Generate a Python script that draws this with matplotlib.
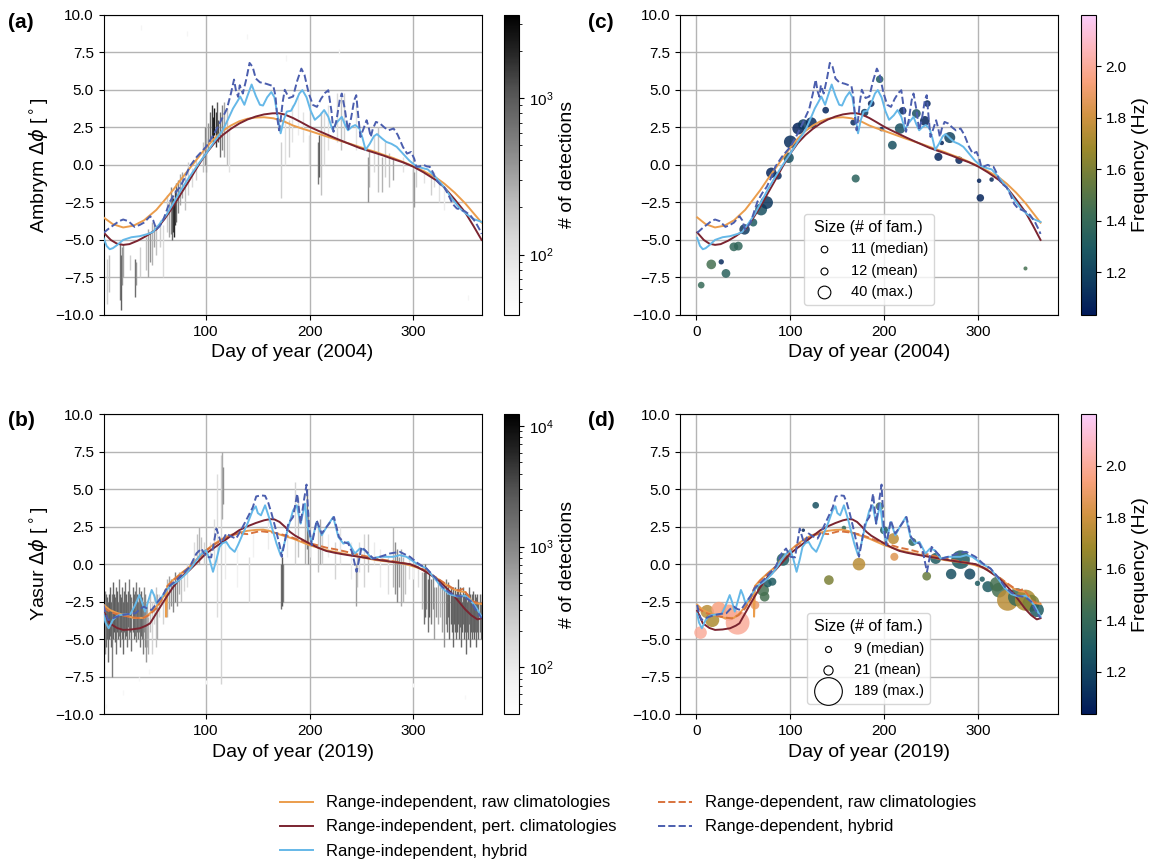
import numpy as np
import matplotlib
matplotlib.use('Agg')
import matplotlib.pyplot as plt
from matplotlib.colors import LogNorm, Normalize, LinearSegmentedColormap
from matplotlib.lines import Line2D
import matplotlib.cm as cm

plt.rcParams['font.family'] = ['Liberation Sans', 'DejaVu Sans']

# ---------------- curves 2004 (Ambrym), (day, dphi) ----------------
ri_raw_2004 = [(1,-3.5),(10,-3.95),(20,-4.17),(30,-4.05),(40,-3.7),(52,-3.0),(60,-2.35),(68,-1.69),
    (76,-0.95),(84,-0.25),(92,0.45),(100,1.15),(108,1.75),(116,2.25),(124,2.62),(132,2.9),(140,3.07),
    (148,3.15),(156,3.17),(165,3.1),(175,2.9),(184,2.62),(192,2.43),(200,2.26),(208,2.08),(216,1.9),
    (224,1.72),(232,1.55),(240,1.38),(248,1.2),(256,1.02),(264,0.85),(272,0.65),(280,0.47),(290,0.2),
    (300,-0.09),(310,-0.42),(322,-0.85),(330,-1.25),(340,-1.85),(350,-2.55),(358,-3.2),(366,-3.85)]
ri_pert_2004 = [(1,-4.5),(8,-5.0),(14,-5.25),(20,-5.33),(26,-5.28),(34,-5.05),(42,-4.75),(52,-4.3),
    (60,-3.6),(68,-2.8),(76,-1.9),(84,-1.02),(92,-0.1),(100,0.75),(108,1.45),(116,1.98),(124,2.4),
    (132,2.75),(140,3.02),(148,3.22),(156,3.36),(164,3.43),(170,3.44),(176,3.35),(184,3.12),(192,2.83),
    (200,2.53),(208,2.28),(216,2.04),(224,1.8),(232,1.57),(240,1.35),(248,1.13),(256,0.95),(264,0.78),
    (272,0.6),(280,0.4),(290,0.17),(300,-0.12),(310,-0.5),(322,-1.02),(330,-1.5),(340,-2.3),(350,-3.15),
    (358,-4.05),(366,-5.0)]
ri_hyb_2004 = [(1,-4.86),(4,-5.4),(7,-5.62),(10,-5.55),(14,-5.35),(20,-5.0),(28,-4.82),(36,-4.75),
    (44,-4.6),(49,-4.46),(55,-3.95),(62,-3.3),(68,-2.6),(76,-1.65),(84,-0.8),(92,0.0),(100,0.75),
    (108,1.55),(116,2.3),(122,3.15),(126,3.75),(130,4.2),(133,4.55),(137,4.0),(140,4.6),(144,5.35),
    (148,4.6),(152,4.0),(155,3.95),(159,4.5),(163,4.85),(166,4.5),(169,3.3),(172,2.1),(175,3.0),
    (178,3.55),(182,3.6),(186,4.1),(190,4.75),(193,4.98),(197,4.5),(201,3.6),(205,3.0),(210,3.3),
    (214,3.65),(218,3.2),(222,2.35),(226,2.8),(231,3.2),(234,2.7),(237,2.3),(241,2.55),(244,2.65),
    (248,2.42),(251,1.8),(254,1.0),(258,1.4),(262,1.9),(265,2.05),(270,1.75),(274,1.53),(279,1.4),
    (284,1.2),(290,0.75),(296,0.3),(302,-0.05),(308,-0.2),(314,-0.3),(322,-0.85),(330,-1.5),
    (338,-2.3),(345,-2.9),(352,-3.3),(358,-3.6),(366,-3.8)]
rd_hyb_2004 = [(1,-4.53),(6,-4.25),(11,-4.0),(16,-3.75),(20,-3.64),(25,-3.75),(31,-4.13),(36,-4.0),
    (40,-3.85),(46,-3.42),(49,-3.7),(52,-4.3),(55,-4.1),(58,-3.8),(65,-2.46),(70,-1.9),(75,-1.46),
    (80,-0.8),(84,-0.13),(91,0.53),(100,1.2),(107,1.98),(113,2.75),(117,3.3),(120,3.7),(124,4.75),
    (127,5.68),(129,4.9),(131,4.53),(132.5,5.3),(135.5,4.75),(139,5.75),(142,6.79),(145,6.52),
    (148,5.75),(152,5.5),(158,5.4),(165,5.24),(167,4.6),(169,3.0),(170.5,2.3),(172,3.0),(174,4.2),
    (176,5.0),(180,4.45),(184,4.55),(188,5.6),(192,6.41),(195,6.0),(199,4.8),(203,4.0),(207,3.86),
    (211,4.4),(215,4.8),(218,4.97),(221,3.6),(223,2.2),(226,3.0),(229,4.3),(231,4.75),(234,3.7),
    (237,2.3),(240,3.1),(243,4.3),(245,4.64),(247,3.2),(249,1.86),(252,2.4),(255,2.97),(257,2.5),
    (259,1.86),(261,2.4),(264,2.86),(268,2.75),(272,2.5),(276,2.3),(281,2.42),(285,2.0),(290,1.2),
    (294,0.75),(298,0.86),(301,0.4),(303,-0.13),(306,-0.1),(310,0.0),(313,-0.1),(316,-0.13),
    (319,-0.5),(322,-1.0),(326,-1.3),(330,-1.5),(334,-2.0),(338,-2.6),(342,-2.9),(346,-3.0),
    (350,-3.1),(355,-3.35),(360,-3.8),(364,-4.3),(366,-4.6)]

# ---------------- curves 2019 (Yasur) ----------------
ri_raw_2019 = [(1,-2.7),(7,-3.05),(14,-3.25),(20,-3.38),(30,-3.58),(40,-3.58),(46,-3.27),(52,-2.83),
    (57,-2.39),(60,-2.0),(61,-1.7),(61.5,-3.5),(62.5,-1.45),(68,-1.06),(76,-0.6),(84,-0.18),(92,0.4),
    (100,0.93),(108,1.35),(116,1.7),(124,1.95),(132,2.1),(140,2.22),(148,2.28),(155,2.3),(162,2.2),
    (168,2.04),(176,1.87),(184,1.7),(192,1.48),(200,1.26),(208,1.1),(216,0.93),(224,0.82),(232,0.71),
    (240,0.6),(248,0.49),(256,0.38),(264,0.27),(272,0.2),(280,0.15),(288,0.06),(296,-0.06),
    (306,-0.28),(314,-0.55),(322,-0.9),(330,-1.3),(338,-1.65),(344,-1.8),(350,-1.85),(353,-2.1),
    (356,-2.45),(360,-2.6),(366,-2.65)]
rd_raw_2019 = [(1,-2.9),(8,-3.2),(15,-3.35),(22,-3.45),(30,-3.55),(38,-3.62),(45,-3.4),(52,-2.95),
    (58,-2.3),(62,-1.55),(68,-1.1),(76,-0.65),(84,-0.2),(92,0.35),(100,0.9),(108,1.3),(116,1.65),
    (124,1.9),(132,2.05),(140,2.0),(146,2.1),(152,2.2),(158,2.15),(165,2.1),(172,2.0),(180,1.85),
    (190,1.6),(200,1.4),(208,1.25),(216,1.1),(224,1.0),(232,0.88),(240,0.75),(248,0.62),(256,0.5),
    (264,0.38),(272,0.28),(280,0.2),(290,0.08),(300,-0.08),(310,-0.35),(320,-0.8),(330,-1.25),
    (338,-1.6),(344,-1.75),(348,-1.65),(352,-2.0),(356,-2.4),(360,-2.55),(366,-2.6)]
ri_pert_2019 = [(1,-3.1),(7,-3.94),(14,-4.25),(20,-4.38),(28,-4.35),(36,-4.27),(42,-4.1),(46,-3.94),
    (52,-3.27),(58,-2.6),(62,-2.17),(68,-1.55),(76,-0.85),(84,-0.4),(92,0.15),(100,0.71),(108,1.1),
    (116,1.48),(124,1.88),(132,2.26),(140,2.52),(148,2.74),(156,2.92),(162,3.0),(166,2.98),(171,2.81),
    (176,2.5),(181,2.15),(186,1.9),(191,1.71),(200,1.37),(208,1.1),(216,0.88),(224,0.76),(232,0.66),
    (240,0.57),(248,0.49),(256,0.4),(264,0.31),(272,0.23),(280,0.15),(288,0.08),(297,0.0),(304,-0.2),
    (310,-0.42),(316,-0.68),(322,-0.95),(330,-1.45),(338,-2.0),(344,-2.5),(350,-3.0),(356,-3.4),
    (362,-3.68),(366,-3.6)]
ri_hyb_2019 = [(1,-3.3),(3,-3.9),(6,-4.27),(10,-3.72),(14,-3.45),(17,-3.38),(22,-3.35),(27,-3.32),
    (31,-2.8),(35.6,-2.06),(38,-2.5),(41,-3.16),(44,-2.5),(47.5,-1.72),(50,-2.1),(52.3,-2.61),(56,-2.3),
    (62,-1.72),(66,-1.4),(71.5,-1.2),(76,-0.95),(81,-0.62),(86,-0.2),(90.7,0.27),(95,0.65),(100,0.93),
    (103,0.4),(106.7,-0.51),(110,0.3),(113,1.15),(116,1.4),(119.5,1.48),(123,1.1),(127.6,0.82),
    (131,1.3),(135.6,2.04),(140,2.7),(145,3.58),(148,3.85),(150,3.4),(153,3.25),(157,3.92),
    (161.7,2.92),(165,2.1),(168,1.37),(172,0.6),(175,1.2),(177.8,2.04),(184,3.58),(187.5,3.92),
    (191.3,2.7),(195.5,4.03),(198.7,2.26),(202,1.48),(206.8,2.81),(211.6,1.92),(216.4,2.48),
    (222.8,3.14),(227.7,1.81),(232.5,1.37),(237.3,1.48),(243.7,0.71),(248.5,1.04),(253.4,0.93),
    (259.8,0.38),(267.8,0.49),(274.3,0.49),(280.7,0.49),(287,0.6),(293.5,0.49),(303.2,0.04),
    (312.8,-0.29),(322,-1.06),(328,-1.6),(335,-2.0),(342,-2.15),(350,-2.1),(355,-2.4),(360,-2.8),
    (366,-3.5)]
rd_hyb_2019 = [(1,-2.72),(3,-3.3),(5.5,-3.72),(10,-3.6),(14,-3.5),(20,-3.38),(27,-3.3),(32,-3.27),
    (36,-3.0),(40,-2.83),(44,-3.0),(47.5,-3.05),(52.3,-2.61),(58,-2.1),(62,-1.61),(71.5,-1.06),
    (78,-0.6),(84.3,-0.18),(90.7,0.71),(95.5,1.04),(100,0.49),(105,0.45),(110,2.37),(114.7,1.37),
    (119.5,2.04),(124,1.85),(129,1.7),(134,2.3),(138.7,2.92),(145.2,3.8),(148.4,4.51),(153,4.58),
    (157,4.55),(160,4.1),(163.3,3.36),(167,2.4),(171.4,1.15),(173,0.49),(176,1.5),(179.4,2.7),
    (184,3.14),(188,4.69),(191.3,2.7),(194.5,4.25),(197,5.3),(199.4,2.48),(202,1.26),(206.8,2.92),
    (211.6,2.04),(216.4,2.48),(223.5,3.14),(228.3,1.81),(232.5,1.48),(237.3,1.37),(241,0.8),
    (245.3,-0.51),(250.2,1.15),(255,0.82),(261.4,0.38),(267.8,0.49),(277.5,0.71),(287,0.82),
    (296.8,0.49),(304.8,0.04),(312.8,-0.29),(322,-0.95),(328,-1.5),(335,-1.9),(342,-2.1),(350,-2.2),
    (356,-2.5),(360,-3.0),(366,-3.6)]

# ---------------- detection histograms: (day, dphi_low, dphi_high, count) ----------------
det_2004 = [(4,-9.3,-6.3,150),(6,-8.5,-6.0,200),(17,-9.0,-5.2,600),(18,-9.7,-6.0,900),(19,-8.0,-5.5,400),
    (20,-7.5,-5.3,300),(27,-7.0,-6.0,150),(31,-8.8,-6.3,700),(32,-8.0,-6.5,400),(36,-7.5,-5.5,150),
    (42,-7.0,-4.8,200),(44,-7.5,-4.3,300),(46,-6.5,-4.5,400),(48,-6.7,-3.8,250),(50,-5.5,-4.0,300),
    (52,-6.0,-4.0,200),(56,-5.5,-3.7,150),(58,-7.5,-4.0,120),(62,-4.5,-2.0,150),(64,-4.8,-2.5,300),
    (66,-4.6,-1.5,500),(67,-5.0,-2.0,800),(68,-4.5,-2.2,1500),(69,-4.8,-2.4,2000),(70,-4.0,-1.7,1500),
    (71,-3.8,-1.2,800),(73,-3.2,-1.0,500),(75,-2.7,-0.6,300),(77,-2.2,-0.5,300),(80,-3.0,-0.5,200),
    (83,-2.0,0.2,150),(86,-1.5,-0.2,120),(90,-1.0,0.5,150),(97,-0.5,1.5,200),(99,0.0,2.5,500),
    (100,-0.5,1.8,300),(102,1.0,2.8,400),(104,1.5,3.5,800),(106,1.8,4.0,1500),(107,1.5,3.2,2000),
    (108,2.0,3.8,2500),(110,1.2,3.5,1500),(111,2.0,4.2,1000),(112,1.5,3.0,1200),(113,0.5,3.5,700),
    (115,1.0,4.0,500),(117,0.5,4.2,300),(120,0.0,3.8,200),(122,-0.5,2.5,100),(172,-2.2,1.5,150),
    (176,0.0,3.0,100),(180,0.5,3.0,150),(183,1.5,4.0,100),(189,2.0,4.5,80),(194,1.5,3.5,100),
    (199,0.0,2.0,120),(208,-1.3,1.5,600),(209,-0.8,2.0,900),(211,-2.0,3.5,200),(214,0.0,3.5,120),
    (218,1.0,4.0,100),(226,1.5,4.8,120),(230,1.0,4.5,200),(233,1.5,4.8,150),(245,1.0,4.0,100),
    (256,-2.5,0.5,400),(257,-1.5,1.0,250),(262,-0.5,2.0,120),(266,-1.8,2.5,200),(270,-1.8,0.5,250),
    (273,-0.8,1.5,150),(277,-1.5,0.8,200),(280,-1.0,0.5,300),(290,-0.5,0.5,100),(300,-2.5,-0.3,250),
    (301,-2.8,-0.5,350),(303,-1.5,0.0,150),(310,-1.2,-0.3,100),(317,-2.0,-0.5,150),(320,-1.5,-0.5,120),
    (325,-2.5,-1.0,100),(330,-3.0,-1.5,80),(37,9.0,9.3,60),(82,8.6,8.9,60),(140,8.4,8.7,60),
    (177,6.9,7.3,60),(228,7.4,7.7,60),(353,-9.0,-8.7,60)]
det_2019 = [(1,-7.0,-2.5,300),(2,-6.0,-1.8,800),(3,-5.5,-2.0,1500),(4,-5.0,-2.2,2000),(5,-6.5,-2.5,1800),
    (6,-5.0,-2.0,2500),(7,-4.8,-1.5,2000),(8,-5.5,-2.5,2200),(9,-7.5,-2.0,1200),(10,-5.0,-1.2,2000),
    (11,-4.5,-2.0,2500),(12,-5.2,-2.2,2000),(13,-6.0,-1.5,1500),(14,-4.5,-1.8,2200),(15,-5.0,-2.5,1800),
    (16,-4.8,-1.0,1200),(17,-5.5,-2.0,2000),(18,-4.5,-2.2,2200),(19,-5.0,-1.5,1500),(20,-6.0,-2.5,1800),
    (21,-4.5,-1.8,2000),(22,-5.0,-1.2,1500),(23,-4.8,-2.0,2200),(24,-5.5,-2.5,1500),(25,-4.2,-1.8,2000),
    (26,-5.0,-1.0,1200),(27,-4.5,-2.0,2000),(28,-5.8,-2.2,1500),(29,-4.5,-1.5,1800),(30,-5.0,-2.0,2000),
    (31,-4.8,-1.8,1500),(32,-5.2,-1.2,1200),(33,-4.5,-2.0,1800),(34,-5.0,-2.5,1500),(35,-4.5,-1.5,1200),
    (36,-5.5,-2.0,1500),(37,-4.8,-1.8,1800),(38,-5.0,-2.2,1500),(39,-6.0,-2.5,1200),(40,-4.5,-1.5,900),
    (41,-5.5,-2.0,1000),(42,-6.5,-3.0,700),(43,-5.5,-2.5,500),(44,-6.0,-3.5,450),(46,-4.5,-2.0,300),
    (48,-6.0,-2.5,200),(50,-4.0,-2.0,200),(52,-5.5,-1.5,300),(53,-5.0,-2.0,500),(55,-3.5,-2.0,150),
    (58,-4.0,-2.5,200),(60,-3.5,-2.0,200),(62,-3.5,-1.0,400),(64,-3.0,-0.8,600),(66,-2.8,-1.0,800),
    (68,-3.2,-1.2,1000),(70,-2.5,-0.5,1200),(72,-2.8,-0.8,800),(74,-2.0,-0.5,500),(76,-2.5,-1.0,300),
    (79,-1.8,-0.5,200),(82,-1.5,0.0,150),(88,0.0,1.5,150),(91,0.5,2.0,300),(93,0.0,2.5,400),
    (95,0.5,1.8,300),(98,0.0,1.5,200),(104,0.5,1.5,150),(108,0.0,3.0,150),(111,-3.5,6.0,150),
    (114,-8.0,7.3,200),(115,3.0,7.5,500),(116,4.0,6.5,800),(118,-1.0,2.0,100),(130,-1.5,1.0,80),
    (141,-2.5,0.5,150),(145,0.5,2.0,80),(160,1.0,3.0,100),(172,-3.0,0.0,1500),(173,-2.8,0.5,2500),
    (174,-2.5,0.0,1200),(178,0.5,2.5,100),(186,0.0,5.5,200),(189,0.5,4.5,300),(196,0.0,4.0,400),
    (197,1.0,5.0,1500),(198,0.0,3.5,800),(200,0.5,2.0,150),(208,-0.5,2.5,300),(210,0.0,3.0,500),
    (212,0.0,2.0,200),(218,0.5,2.0,100),(224,-1.0,1.5,200),(229,0.0,2.5,120),(240,-1.0,1.5,100),
    (245,-2.8,0.0,600),(246,-1.5,0.5,300),(248,-0.5,1.5,150),(252,-1.5,2.0,200),(256,-0.5,2.0,300),
    (262,0.0,1.5,100),(268,-1.5,1.0,100),(276,-2.0,0.5,150),(280,-1.5,2.5,400),(282,-2.0,1.5,800),
    (284,-2.5,1.0,1000),(286,-1.5,0.5,700),(288,-2.8,1.0,500),(290,-2.5,0.5,400),(292,-2.0,0.0,300),
    (296,-1.0,0.5,150),(300,-1.0,0.0,100),(305,-1.5,0.0,150),(308,-3.0,-0.5,400),(310,-4.0,-0.5,1500),
    (311,-3.5,0.0,2000),(312,-3.0,-0.5,1000),(314,-4.5,-1.0,1500),(315,-3.5,-0.5,2500),(317,-4.0,-1.0,1200),
    (319,-3.0,-0.8,1000),(320,-5.0,-1.5,600),(322,-3.5,-1.5,800),(324,-4.0,-1.0,500),(326,-3.5,-1.5,400),
    (328,-4.5,-1.5,600),(330,-5.5,-1.5,800),(332,-4.0,-1.0,1200),(333,-4.5,-2.0,1500),(334,-3.5,-1.2,1800),
    (335,-5.0,-2.0,2000),(336,-4.0,-1.5,2200),(337,-4.5,-2.0,2000),(338,-5.5,-1.5,1800),(339,-4.0,-2.2,2200),
    (340,-4.5,-1.5,2000),(341,-5.0,-2.0,1800),(342,-4.5,-1.8,2200),(343,-4.0,-1.0,2000),(344,-5.0,-2.0,1800),
    (345,-4.2,-1.5,2000),(346,-5.5,-2.0,1800),(347,-4.5,-2.5,2200),(348,-4.0,-1.5,1800),(349,-5.0,-2.0,2000),
    (350,-4.5,-1.8,2200),(351,-6.0,-2.0,1800),(352,-4.5,-2.5,2000),(353,-5.0,-2.0,1800),(354,-4.0,-1.5,1500),
    (355,-5.5,-2.0,2000),(356,-4.5,-2.5,2200),(357,-5.0,-2.0,1800),(358,-4.5,-1.8,2000),(359,-5.0,-2.5,2200),
    (360,-4.5,-2.0,2000),(361,-5.5,-2.2,1800),(362,-4.5,-2.0,2000),(363,-5.0,-2.5,1800),(364,-4.5,-2.0,1500),
    (365,-5.0,-2.5,1500),(366,-4.5,-2.0,1200),(3,-9.6,-9.3,60),(20,-8.7,-8.4,60),(35,-7.8,-7.5,60),
    (45,-7.3,-7.0,60),(100,-8.0,-7.7,60),(300,-8.2,-7.9,60),(350,-9.0,-8.7,60)]

# ---------------- families: day, dphi, number of families, frequency (Hz) ----------------
fam_2004 = [(5.3,-8.01,11,1.40),(16,-6.63,23,1.45),(26.6,-6.46,7,1.10),(31.6,-7.23,19,1.35),
    (40,-5.46,19,1.38),(44.7,-5.41,19,1.38),(51.4,-4.3,27,1.15),(60.6,-3.84,16,1.30),(69,-2.97,35,1.25),
    (74.8,-2.51,40,1.15),(79.8,-0.53,27,1.08),(86.9,-0.73,14,1.10),(98.2,0.47,27,1.25),(100,1.53,40,1.12),
    (108.5,2.42,35,1.08),(113.8,2.69,27,1.15),(122.3,2.8,30,1.10),(137.6,3.64,11,1.08),(167,2.82,9,1.10),
    (169.5,-0.91,16,1.35),(179,3.48,14,1.15),(186,4.08,11,1.08),(195,5.7,14,1.30),(197,2.38,5,1.08),
    (208.5,1.31,19,1.25),(216.7,2.42,27,1.25),(219.5,3.6,14,1.08),(234,3.42,19,1.25),(243,2.93,23,1.08),
    (245.7,4.08,11,1.08),(257.4,0.53,16,1.08),(261,1.46,5,1.08),(269.5,1.82,30,1.20),(279.4,0.31,14,1.08),
    (300.7,-1.06,5,1.08),(302,-2.2,14,1.08),(314,-0.98,5,1.10),(350,-6.9,4,1.45)]
fam_2019 = [(4.6,-4.56,39,2.00),(11.7,-3.16,44,1.75),(17,-3.72,49,1.72),(24,-3.0,54,1.95),
    (34.8,-3.23,66,1.95),(44,-3.9,140,2.00),(62.4,-2.72,19,1.90),(71,-1.73,35,1.45),(72.7,-2.17,23,1.45),
    (76,-1.28,16,1.30),(80.9,-1.17,16,1.30),(92.2,0.31,39,1.30),(113.8,2.26,3,1.08),(127,3.92,11,1.25),
    (141,-1.06,23,1.60),(157,2.41,5,1.40),(173,0.0,39,1.75),(195,3.85,16,1.45),(199.6,2.26,16,1.30),
    (209.6,1.7,30,1.75),(210.6,0.49,16,1.85),(229.8,1.48,16,1.35),(245,-0.8,19,1.55),(254.6,0.38,30,1.30),
    (271,-0.66,27,1.25),(281,0.3,85,1.30),(290.8,-0.66,30,1.22),(299,-1.28,7,1.30),(304,-1.0,7,1.30),
    (310,-1.5,30,1.30),(320,-1.33,54,1.45),(322,-1.73,54,1.45),(331,-2.4,110,1.75),(341,-2.2,80,1.40),
    (350,-2.4,110,1.72),(356,-2.6,70,1.60),(362,-3.05,50,1.30)]
size_stats_2004 = [(11, '11 (median)'), (12, '12 (mean)'), (40, '40 (max.)')]
size_stats_2019 = [(9, '9 (median)'), (21, '21 (mean)'), (189, '189 (max.)')]

# ---------------- styles ----------------
C_RAW, C_PERT, C_HYB = '#eb9d4c', '#7b2430', '#65b8e8'
C_RDRAW, C_RDHYB = '#d8733d', '#4b5eae'
batlow = LinearSegmentedColormap.from_list('batlow', ['#011959', '#0f3c5f', '#1d5a62', '#3c6d56',
    '#687b3e', '#9d892b', '#d29343', '#f8a17b', '#fdb7bc', '#faccfa'])
fnorm = Normalize(1.035, 2.2)
SK = 2.1  # marker area per family

fig = plt.figure(figsize=(11.64, 8.61), dpi=100)
W, H = 1164, 861
def rect(x0, y0, x1, y1):
    return [x0 / W, 1 - y1 / H, (x1 - x0) / W, (y1 - y0) / H]

ax_a = fig.add_axes(rect(103.5, 14.7, 481.6, 315))
ax_b = fig.add_axes(rect(103.5, 414, 481.6, 714.3))
ax_c = fig.add_axes(rect(680, 14.7, 1057.7, 315))
ax_d = fig.add_axes(rect(680, 414, 1057.7, 714.3))
cax_a = fig.add_axes(rect(504, 14.7, 519, 315))
cax_b = fig.add_axes(rect(504, 414, 519, 714.3))
cax_c = fig.add_axes(rect(1081, 14.7, 1096, 315))
cax_d = fig.add_axes(rect(1081, 414, 1096, 714.3))

def curves(ax, year):
    if year == 2004:
        sets = [(ri_raw_2004, C_RAW, '-'), (ri_pert_2004, C_PERT, '-'),
                (ri_hyb_2004, C_HYB, '-'), (rd_hyb_2004, C_RDHYB, '--')]
    else:
        sets = [(ri_raw_2019, C_RAW, '-'), (rd_raw_2019, C_RDRAW, '--'), (ri_pert_2019, C_PERT, '-'),
                (ri_hyb_2019, C_HYB, '-'), (rd_hyb_2019, C_RDHYB, '--')]
    for data, c, ls in sets:
        d = np.array(data)
        ax.plot(d[:, 0], d[:, 1], color=c, ls=ls, lw=1.4, zorder=3)

def style(ax):
    ax.set_ylim(-10, 10)
    ax.set_yticks(np.arange(-10, 10.1, 2.5))
    ax.grid(True, color='#b4b4b4', lw=1.0)
    ax.set_axisbelow(True)
    ax.tick_params(labelsize=11)

for ax, det, vmax, cax, year, name in [(ax_a, det_2004, 3430, cax_a, 2004, 'Ambrym'),
                                       (ax_b, det_2019, 12500, cax_b, 2019, 'Yasur')]:
    norm = LogNorm(41, vmax)
    d = np.array(det)
    ax.vlines(d[:, 0], d[:, 1], d[:, 2], colors=plt.cm.Greys(norm(d[:, 3])), lw=1.0, zorder=1)
    curves(ax, year)
    style(ax)
    ax.set_xlim(1, 366)
    ax.set_xticks([100, 200, 300])
    ax.set_xlabel('Day of year (%d)' % year, fontsize=14)
    ax.set_ylabel(name + r' $\Delta\phi$ [$^\circ$]', fontsize=14)
    cb = fig.colorbar(cm.ScalarMappable(norm=norm, cmap='Greys'), cax=cax)
    cb.set_label('# of detections', fontsize=14)
    cax.tick_params(labelsize=11)

for ax, fam, stats, cax, year in [(ax_c, fam_2004, size_stats_2004, cax_c, 2004),
                                  (ax_d, fam_2019, size_stats_2019, cax_d, 2019)]:
    f = np.array(fam)
    ax.scatter(f[:, 0], f[:, 1], s=SK * f[:, 2], c=f[:, 3], cmap=batlow, norm=fnorm,
               alpha=0.85, edgecolors='none', zorder=2)
    curves(ax, year)
    style(ax)
    ax.set_xlim(-17.25, 384.25)
    ax.set_xticks([0, 100, 200, 300])
    ax.set_xlabel('Day of year (%d)' % year, fontsize=14)
    handles = [ax.scatter([], [], s=SK * n, facecolor='white', edgecolor='black', lw=0.8)
               for n, _ in stats]
    ax.legend(handles, [lab for _, lab in stats], title='Size (# of fam.)', loc='lower center',
              bbox_to_anchor=(0.5, 0.01), fontsize=10.5, title_fontsize=11.5, framealpha=0.8)
    cb = fig.colorbar(cm.ScalarMappable(norm=fnorm, cmap=batlow), cax=cax)
    cb.set_ticks([1.2, 1.4, 1.6, 1.8, 2.0])
    cb.set_label('Frequency (Hz)', fontsize=14)
    cax.tick_params(labelsize=11)

for lab, x, y in [('(a)', 8, 22), ('(b)', 8, 421), ('(c)', 588, 22), ('(d)', 588, 421)]:
    fig.text(x / W, 1 - y / H, lab, fontsize=15, fontweight='bold', ha='left', va='center')

leg_handles = [Line2D([], [], color=C_RAW, lw=1.4), Line2D([], [], color=C_PERT, lw=1.4),
               Line2D([], [], color=C_HYB, lw=1.4), Line2D([], [], color=C_RDRAW, lw=1.4, ls='--'),
               Line2D([], [], color=C_RDHYB, lw=1.4, ls='--')]
leg_labels = ['Range-independent, raw climatologies', 'Range-independent, pert. climatologies',
              'Range-independent, hybrid', 'Range-dependent, raw climatologies',
              'Range-dependent, hybrid']
fig.legend(leg_handles, leg_labels, ncol=2, loc='center', bbox_to_anchor=(628 / W, 1 - 827 / H),
           frameon=False, fontsize=12, labelspacing=0.55, columnspacing=2.5)

fig.savefig('out.png', dpi=100)
